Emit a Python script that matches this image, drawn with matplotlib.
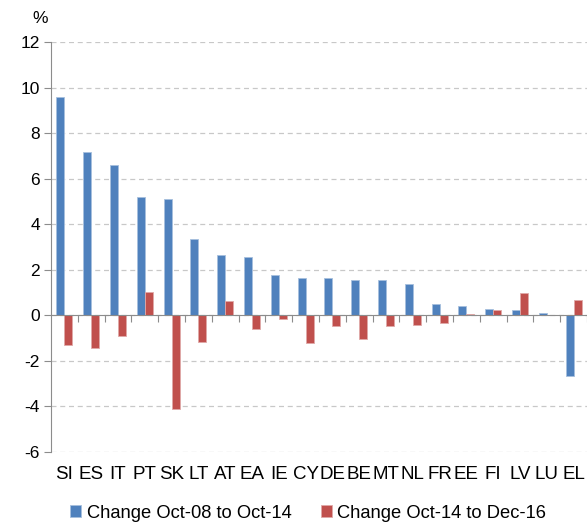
import numpy as np
import matplotlib.pyplot as plt
from matplotlib.transforms import blended_transform_factory

plt.rcParams['font.family'] = ['Liberation Sans', 'DejaVu Sans']

countries = ['SI', 'ES', 'IT', 'PT', 'SK', 'LT', 'AT', 'EA', 'IE', 'CY',
             'DE', 'BE', 'MT', 'NL', 'FR', 'EE', 'FI', 'LV', 'LU', 'EL']
chg_08_14 = [9.6, 7.15, 6.58, 5.19, 5.09, 3.36, 2.67, 2.56, 1.78, 1.66,
             1.66, 1.55, 1.55, 1.37, 0.51, 0.40, 0.28, 0.22, 0.10, -2.67]
chg_14_16 = [-1.32, -1.44, -0.93, 1.03, -4.1, -1.15, 0.63, -0.59, -0.17, -1.21,
             -0.47, -1.05, -0.47, -0.41, -0.35, 0.05, 0.23, 0.97, 0.02, 0.68]
yticks = [-6, -4, -2, 0, 2, 4, 6, 8, 10, 12]

blue = '#4F81BD'
red = '#C0504D'

fig = plt.figure(figsize=(5.87, 5.23), dpi=100)
ax = fig.add_axes([0.0869, 0.1358, 0.9131, 0.7839])

x = np.arange(len(countries))
w = 0.3
ax.bar(x - w / 2, chg_08_14, w, color=blue, edgecolor='#A7C0DE', linewidth=0.6,
       label='Change Oct-08 to Oct-14', zorder=3)
ax.bar(x + w / 2, chg_14_16, w, color=red, edgecolor='#E0A9A8', linewidth=0.6,
       label='Change Oct-14 to Dec-16', zorder=3)

ax.set_xlim(-0.5, len(countries) - 0.5)
ax.set_ylim(-6, 12)
ax.set_yticks(yticks)
ax.set_yticklabels([str(v) for v in yticks], fontsize=12.5)
ax.grid(axis='y', linestyle=(0, (4, 3)), color='#C8C8C8', linewidth=0.9, zorder=0)

for s in ['top', 'right']:
    ax.spines[s].set_visible(False)
ax.spines['left'].set_color('#8C8C8C')
ax.spines['bottom'].set_position(('data', 0))
ax.spines['bottom'].set_color('#8C8C8C')
ax.spines['bottom'].set_zorder(4)
ax.tick_params(axis='y', direction='out', length=5, color='#8C8C8C', pad=3)
ax.set_xticks(x + 0.5)
ax.set_xticklabels([])
ax.tick_params(axis='x', direction='out', length=5, color='#8C8C8C')

trans = blended_transform_factory(ax.transData, ax.transAxes)
for xi, c in zip(x, countries):
    ax.text(xi, -0.054, c, transform=trans, ha='center', va='center', fontsize=13.5)

fig.text(0.068, 0.965, '%', ha='center', va='center', fontsize=12.5)

fig.legend(loc='center', bbox_to_anchor=(0.525, 0.019), ncol=2, frameon=False,
           fontsize=13.2, handlelength=0.6, handleheight=0.6, handletextpad=0.3,
           columnspacing=1.6)

fig.savefig('out.png', dpi=100)
